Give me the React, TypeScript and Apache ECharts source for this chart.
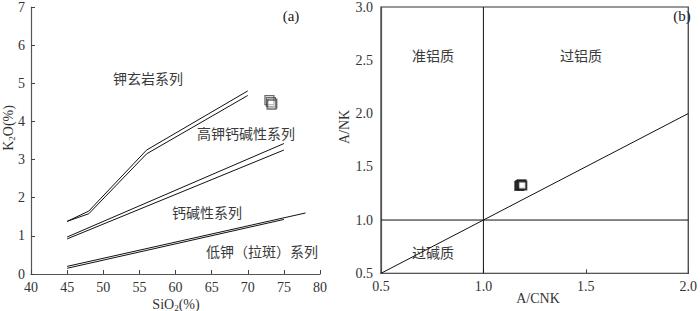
import React, { useEffect, useRef } from "react";
import * as echarts from "echarts";

// Panel (a): SiO2 vs K2O boundaries
const shoshoniteUpper = [[45, 1.38], [48, 1.65], [56, 3.25], [70, 4.8]];
const shoshoniteLower = [[45, 1.38], [48, 1.58], [56, 3.15], [70, 4.68]];
const highKUpper = [[45, 0.97], [75, 3.42]];
const highKLower = [[45, 0.92], [75, 3.25]];
const lowKUpper = [[45, 0.2], [78, 1.6]];
const lowKLower = [[45, 0.15], [75, 1.43]];
const samplesA = [[73.0, 4.56], [73.2, 4.51], [73.4, 4.47], [73.3, 4.44]];

// Panel (b): A/CNK vs A/NK
const boundaryV = [[1, 0.5], [1, 3]];
const boundaryH = [[0.5, 1], [2, 1]];
const boundaryDiag = [[0.5, 0.5], [2, 2]];
const samplesB = [[1.175, 1.32], [1.18, 1.33], [1.186, 1.335], [1.19, 1.325]];

const ticksAX = { min: 40, max: 80, interval: 5 };
const ticksAY = { min: 0, max: 7, interval: 1 };
const ticksBX = { min: 0.5, max: 2.0, interval: 0.5 };
const ticksBY = { min: 0.5, max: 3.0, interval: 0.5 };

const serif = "'Liberation Serif', 'Times New Roman', 'DejaVu Serif', serif";
const cjk = "'Noto Sans CJK SC', sans-serif";

export default function App() {
  const ref = useRef<HTMLDivElement>(null);
  useEffect(() => {
    document.body.style.margin = "0";
    const chart = echarts.init(ref.current!, null, { renderer: "svg" });
    const lineStyle = { color: "#111", width: 1 };
    const mkLine = (data: number[][], xi: number) => ({
      type: "line",
      xAxisIndex: xi,
      yAxisIndex: xi,
      data,
      symbol: "none",
      lineStyle,
      silent: true,
    });
    const axisLabel = { color: "#333", fontFamily: serif, fontSize: 14 };
    const axisLine = { show: true, lineStyle: { color: "#555", width: 1.2 } };
    const axisTick = { show: true, inside: true, length: 4, lineStyle: { color: "#444" } };
    const cjkText = (text: string, x: number, y: number) => ({
      type: "text",
      x,
      y,
      style: {
        text,
        fontFamily: cjk,
        fontSize: 14,
        fill: "#3a3a3a",
        align: "center",
        verticalAlign: "middle",
      },
    });
    const subRich = {
      a: { fontFamily: serif, fontSize: 14, lineHeight: 16, fill: "#333", verticalAlign: "middle" },
      s: { fontFamily: serif, fontSize: 9, lineHeight: 16, fill: "#333", verticalAlign: "bottom" },
    };
    chart.setOption({
      animation: false,
      grid: [
        { left: 31, top: 1, width: 289, height: 273, show: false },
        {
          left: 381,
          top: 2,
          width: 316,
          height: 271.3,
          show: true,
          borderColor: "#333",
          borderWidth: 1.2,
          backgroundColor: "transparent",
        },
      ],
      xAxis: [
        {
          gridIndex: 0,
          type: "value",
          ...ticksAX,
          axisLine,
          axisTick,
          axisLabel: { ...axisLabel, margin: 6 },
          splitLine: { show: false },
        },
        {
          gridIndex: 1,
          type: "value",
          ...ticksBX,
          axisLine,
          axisTick,
          axisLabel: { ...axisLabel, margin: 6, formatter: (v: number) => v.toFixed(1) },
          splitLine: { show: false },
        },
      ],
      yAxis: [
        {
          gridIndex: 0,
          type: "value",
          ...ticksAY,
          axisLine,
          axisTick,
          axisLabel: { ...axisLabel, margin: 6 },
          splitLine: { show: false },
        },
        {
          gridIndex: 1,
          type: "value",
          ...ticksBY,
          axisLine,
          axisTick: { show: false },
          axisLabel: { ...axisLabel, margin: 8, formatter: (v: number) => v.toFixed(1) },
          splitLine: { show: false },
        },
      ],
      series: [
        mkLine(shoshoniteUpper, 0),
        mkLine(shoshoniteLower, 0),
        mkLine(highKUpper, 0),
        mkLine(highKLower, 0),
        mkLine(lowKUpper, 0),
        mkLine(lowKLower, 0),
        {
          type: "scatter",
          xAxisIndex: 0,
          yAxisIndex: 0,
          data: samplesA,
          symbol: "rect",
          symbolSize: 9,
          itemStyle: { color: "rgba(255,255,255,0.3)", borderColor: "#444", borderWidth: 1.2 },
        },
        mkLine(boundaryV, 1),
        mkLine(boundaryH, 1),
        mkLine(boundaryDiag, 1),
        {
          type: "scatter",
          xAxisIndex: 1,
          yAxisIndex: 1,
          data: samplesB,
          symbol: "rect",
          symbolSize: 8,
          itemStyle: { color: "#fff", borderColor: "#111", borderWidth: 2 },
        },
      ],
      graphic: [
        cjkText("钾玄岩系列", 148, 78),
        cjkText("高钾钙碱性系列", 246, 133),
        cjkText("钙碱性系列", 207, 212),
        cjkText("低钾（拉斑）系列", 262, 251),
        {
          type: "text",
          x: 291,
          y: 16,
          style: { text: "(a)", fontFamily: serif, fontSize: 15, fill: "#222", align: "center", verticalAlign: "middle" },
        },
        cjkText("准铝质", 433, 55),
        cjkText("过铝质", 581, 55),
        cjkText("过碱质", 433, 252),
        {
          type: "text",
          x: 682,
          y: 16,
          style: { text: "(b)", fontFamily: serif, fontSize: 15, fill: "#222", align: "center", verticalAlign: "middle" },
        },
        {
          type: "text",
          x: 8,
          y: 128,
          rotation: Math.PI / 2,
          style: {
            text: "{a|K}{s|2}{a|O(%)}",
            align: "center",
            verticalAlign: "middle",
            rich: subRich,
          },
        },
        {
          type: "text",
          x: 176,
          y: 304,
          style: {
            text: "{a|SiO}{s|2}{a|(%)}",
            align: "center",
            verticalAlign: "middle",
            rich: subRich,
          },
        },
        {
          type: "text",
          x: 344,
          y: 127,
          rotation: Math.PI / 2,
          style: { text: "A/NK", fontFamily: serif, fontSize: 14, fill: "#333", align: "center", verticalAlign: "middle" },
        },
        {
          type: "text",
          x: 538,
          y: 298,
          style: { text: "A/CNK", fontFamily: serif, fontSize: 14, fill: "#333", align: "center", verticalAlign: "middle" },
        },
      ],
    });
    return () => chart.dispose();
  }, []);
  return <div ref={ref} style={{ width: 700, height: 311 }} />;
}
